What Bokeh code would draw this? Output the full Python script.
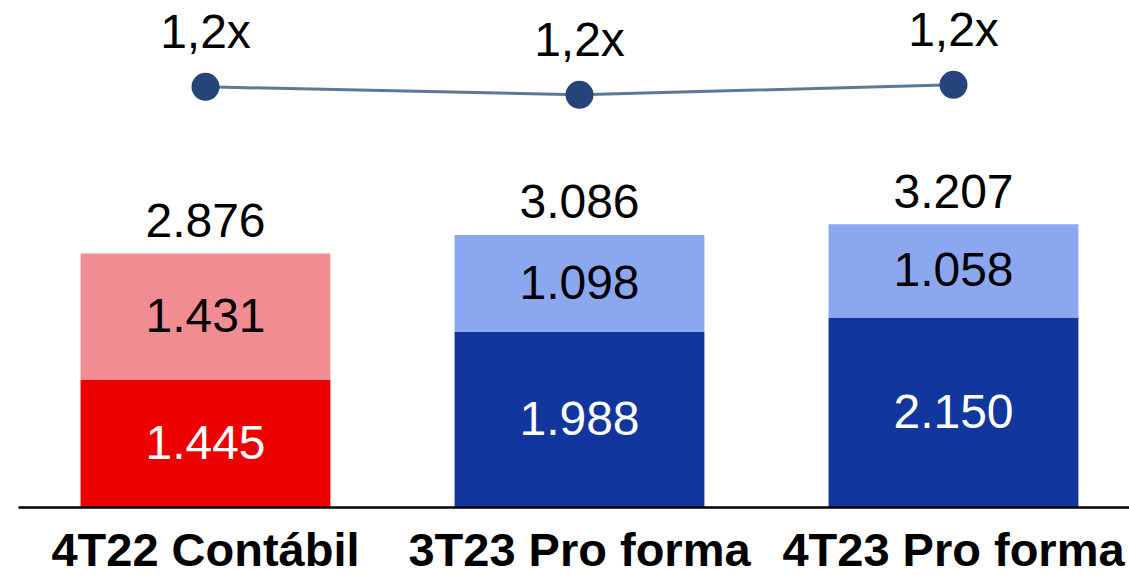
from bokeh.plotting import figure
from bokeh.models import Range1d, ColumnDataSource
from bokeh.core.properties import value
from bokeh.embed import file_html
from bokeh.resources import INLINE

# ---- data ----
categories = ["4T22 Contábil", "3T23 Pro forma", "4T23 Pro forma"]
bottom_vals = [1445, 1988, 2150]
top_vals = [1431, 1098, 1058]
totals = [2876, 3086, 3207]
leverage = [1.21, 1.17, 1.22]
leverage_labels = ["1,2x", "1,2x", "1,2x"]

def fmt(v):
    return f"{v:,}".replace(",", ".")

bottom_colors = ["#EC0000", "#11369E", "#11369E"]
top_colors = ["#F28C93", "#8BA7F0", "#8BA7F0"]

xs = list(range(len(categories)))

src = ColumnDataSource(dict(
    x=xs,
    cat=categories,
    b=bottom_vals,
    t=top_vals,
    tot=totals,
    bmid=[b / 2 for b in bottom_vals],
    tmid=[b + t / 2 for b, t in zip(bottom_vals, top_vals)],
    btop=[b + t for b, t in zip(bottom_vals, top_vals)],
    blab=[fmt(v) for v in bottom_vals],
    tlab=[fmt(v) for v in top_vals],
    totlab=[fmt(v) for v in totals],
    bc=bottom_colors,
    tc=top_colors,
    zero=[0] * len(categories),
    lev=leverage,
    levlab=leverage_labels,
))

W, H = 1129, 575
p = figure(width=W, height=H, output_backend="svg", toolbar_location=None,
           x_range=Range1d(-0.5481, 2.4706), y_range=Range1d(-769.9, 5740.5),
           min_border=0, outline_line_color=None)
p.axis.visible = False
p.grid.visible = False
p.background_fill_color = "white"
p.border_fill_color = "white"

p.extra_y_ranges = {"lev": Range1d(-1.2335, 1.6415)}

bw = 0.668
p.vbar(x="x", bottom="zero", top="b", width=bw, fill_color="bc", line_color=None, source=src)
p.vbar(x="x", bottom="b", top="btop", width=bw, fill_color="tc", line_color=None, source=src)

# baseline
p.segment(x0=[-0.5], y0=[0], x1=[len(categories) - 0.5], y1=[0], line_color="black", line_width=2.5)

font = value("Liberation Sans")
p.text(x="x", y="bmid", text="blab", source=src, text_align="center", text_baseline="middle",
       y_offset=-1, text_font=font, text_font_size="48px", text_color="white")
p.text(x="x", y="tmid", text="tlab", source=src, text_align="center", text_baseline="middle",
       y_offset=-1, text_font=font, text_font_size="48px", text_color="black")
p.text(x="x", y="tot", text="totlab", source=src, text_align="center", text_baseline="middle",
       y_offset=-33, text_font=font, text_font_size="48px", text_color="black")

# category labels
p.text(x="x", y="zero", text="cat", source=src, text_align="center", text_baseline="middle",
       y_offset=42, text_font=font, text_font_size="47px", text_font_style="bold", text_color="black")

# leverage line
p.line(x="x", y="lev", source=src, y_range_name="lev", line_color="#5B7A99", line_width=3)
p.scatter(x="x", y="lev", source=src, y_range_name="lev", size=28, fill_color="#25457A", line_color=None)
p.text(x="x", y="lev", text="levlab", source=src, y_range_name="lev", text_align="center",
       text_baseline="middle", y_offset=-55, text_font=font, text_font_size="48px", text_color="black")

open("out.html", "w").write(file_html(p, INLINE))
